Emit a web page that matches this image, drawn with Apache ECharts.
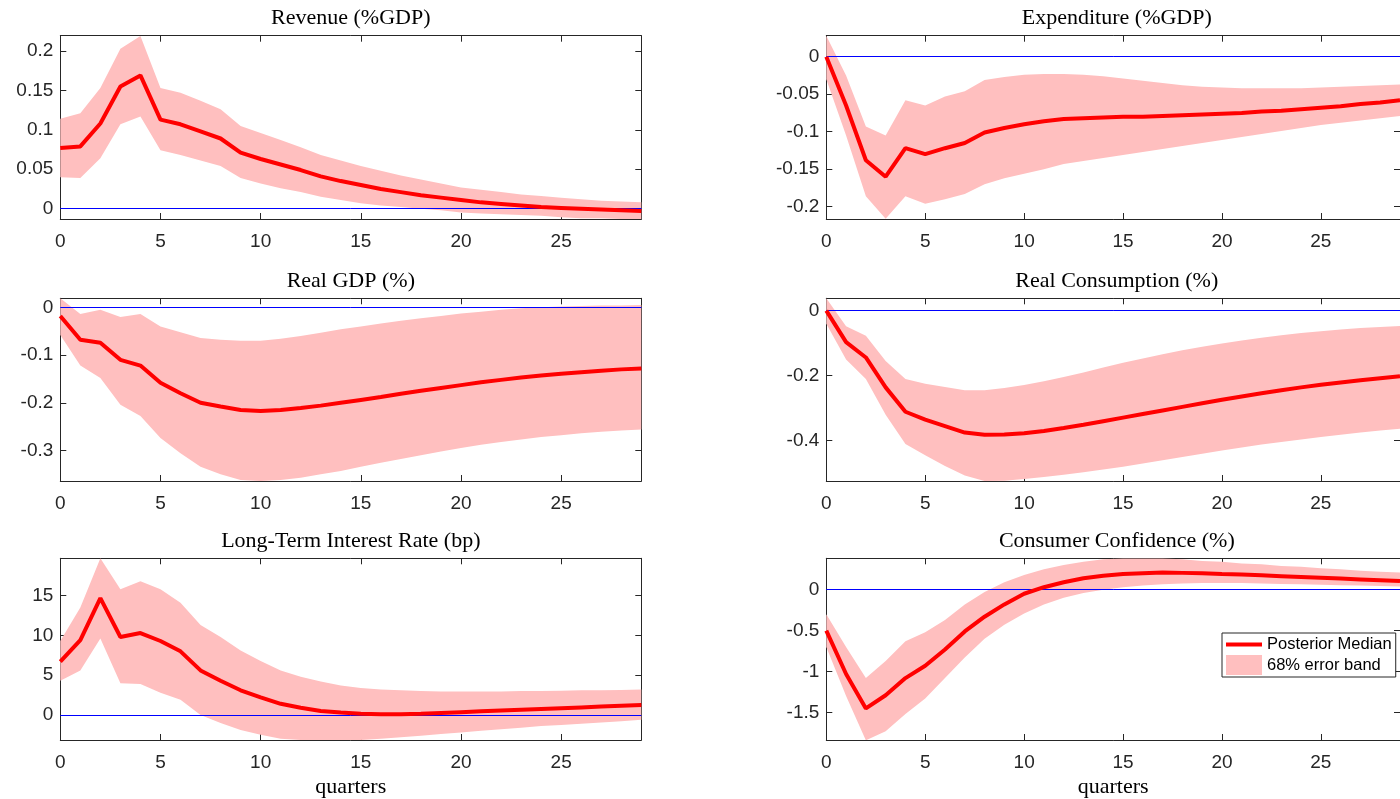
<!DOCTYPE html>
<html><head><meta charset="utf-8">
<script src="https://cdn.jsdelivr.net/npm/echarts@6/dist/echarts.min.js"></script>
<style>html,body{margin:0;padding:0;background:#fff}#c{width:1400px;height:799px}</style>
</head><body><div id="c"></div>
<script>
// ---------- data ----------
const quarters = [0,1,2,3,4,5,6,7,8,9,10,11,12,13,14,15,16,17,18,19,20,21,22,23,24,25,26,27,28,29];
const xTicks = [0,5,10,15,20,25];

const revMed = [0.077,0.079,0.108,0.155,0.169,0.113,0.107,0.098,0.089,0.071,0.063,0.056,0.049,0.041,0.035,0.030,0.025,0.021,0.017,0.014,0.011,0.008,0.006,0.004,0.002,0.001,0.000,-0.001,-0.002,-0.003];
const revUp  = [0.114,0.121,0.153,0.203,0.219,0.153,0.147,0.137,0.126,0.105,0.096,0.087,0.078,0.068,0.061,0.054,0.048,0.042,0.037,0.032,0.027,0.024,0.021,0.018,0.016,0.014,0.012,0.010,0.009,0.008];
const revLo  = [0.040,0.039,0.064,0.107,0.117,0.074,0.068,0.061,0.054,0.039,0.032,0.026,0.021,0.015,0.011,0.007,0.004,0.002,0.000,-0.002,-0.005,-0.006,-0.007,-0.008,-0.009,-0.011,-0.012,-0.012,-0.013,-0.013];
const revTicks = [0,0.05,0.1,0.15,0.2];

const expMed = [0.000,-0.065,-0.138,-0.160,-0.122,-0.130,-0.122,-0.115,-0.101,-0.095,-0.090,-0.086,-0.083,-0.082,-0.081,-0.080,-0.080,-0.079,-0.078,-0.077,-0.076,-0.075,-0.073,-0.072,-0.070,-0.068,-0.066,-0.063,-0.061,-0.058];
const expUp  = [0.028,-0.025,-0.093,-0.105,-0.058,-0.065,-0.053,-0.046,-0.031,-0.027,-0.024,-0.023,-0.023,-0.024,-0.026,-0.029,-0.032,-0.035,-0.038,-0.040,-0.041,-0.042,-0.042,-0.042,-0.042,-0.041,-0.040,-0.039,-0.038,-0.037];
const expLo  = [-0.030,-0.105,-0.186,-0.216,-0.186,-0.196,-0.190,-0.183,-0.170,-0.162,-0.156,-0.150,-0.143,-0.139,-0.135,-0.131,-0.127,-0.123,-0.119,-0.115,-0.111,-0.107,-0.103,-0.099,-0.095,-0.091,-0.088,-0.085,-0.082,-0.079];
const expTicks = [-0.2,-0.15,-0.1,-0.05,0];

const gdpMed = [-0.018,-0.068,-0.074,-0.110,-0.122,-0.158,-0.180,-0.200,-0.208,-0.215,-0.217,-0.215,-0.211,-0.206,-0.200,-0.194,-0.188,-0.181,-0.175,-0.169,-0.163,-0.157,-0.152,-0.147,-0.143,-0.139,-0.136,-0.133,-0.130,-0.128];
const gdpUp  = [0.019,-0.014,-0.005,-0.020,-0.014,-0.040,-0.052,-0.064,-0.068,-0.070,-0.070,-0.066,-0.060,-0.053,-0.046,-0.040,-0.034,-0.028,-0.023,-0.018,-0.013,-0.009,-0.005,-0.002,0.000,0.002,0.003,0.004,0.004,0.005];
const gdpLo  = [-0.058,-0.122,-0.148,-0.204,-0.228,-0.274,-0.306,-0.334,-0.350,-0.362,-0.364,-0.362,-0.357,-0.350,-0.343,-0.334,-0.326,-0.318,-0.310,-0.302,-0.295,-0.288,-0.282,-0.277,-0.272,-0.268,-0.264,-0.261,-0.258,-0.256];
const gdpTicks = [-0.3,-0.2,-0.1,0];

const conMed = [0.000,-0.097,-0.144,-0.236,-0.311,-0.335,-0.355,-0.375,-0.382,-0.381,-0.377,-0.370,-0.361,-0.351,-0.340,-0.329,-0.318,-0.307,-0.296,-0.285,-0.274,-0.264,-0.254,-0.245,-0.236,-0.228,-0.221,-0.214,-0.208,-0.202];
const conUp  = [0.038,-0.048,-0.077,-0.155,-0.210,-0.225,-0.235,-0.245,-0.245,-0.238,-0.229,-0.217,-0.204,-0.190,-0.175,-0.160,-0.147,-0.134,-0.122,-0.111,-0.101,-0.092,-0.083,-0.076,-0.069,-0.063,-0.058,-0.053,-0.050,-0.047];
const conLo  = [-0.040,-0.150,-0.210,-0.320,-0.410,-0.445,-0.478,-0.507,-0.524,-0.523,-0.518,-0.512,-0.505,-0.497,-0.489,-0.480,-0.470,-0.460,-0.450,-0.440,-0.430,-0.421,-0.412,-0.404,-0.396,-0.389,-0.382,-0.375,-0.369,-0.363];
const conTicks = [-0.4,-0.2,0];

const ltrMed = [6.7,9.4,14.7,9.8,10.3,9.3,8.0,5.6,4.3,3.1,2.2,1.4,0.9,0.5,0.3,0.15,0.1,0.1,0.15,0.25,0.35,0.45,0.55,0.65,0.75,0.85,0.95,1.05,1.15,1.25];
const ltrUp  = [9.3,13.5,19.7,15.8,16.8,15.8,14.1,11.3,9.8,8.1,6.8,5.6,4.8,4.2,3.7,3.4,3.2,3.1,3.0,2.95,2.95,2.95,2.95,3.0,3.0,3.05,3.1,3.1,3.15,3.2];
const ltrLo  = [4.3,5.6,9.6,4.0,3.9,2.8,1.9,0.0,-1.0,-1.9,-2.5,-3.0,-3.15,-3.15,-3.15,-3.15,-3.0,-2.8,-2.6,-2.4,-2.2,-2.0,-1.8,-1.6,-1.4,-1.25,-1.1,-0.95,-0.8,-0.6];
const ltrTicks = [0,5,10,15];

const ccMed = [-0.50,-1.03,-1.45,-1.29,-1.08,-0.93,-0.73,-0.51,-0.33,-0.18,-0.05,0.03,0.09,0.14,0.17,0.19,0.20,0.21,0.205,0.20,0.19,0.185,0.175,0.165,0.155,0.145,0.135,0.125,0.115,0.105];
const ccUp  = [-0.30,-0.70,-1.08,-0.87,-0.63,-0.52,-0.37,-0.18,-0.03,0.09,0.18,0.25,0.30,0.34,0.37,0.38,0.38,0.38,0.37,0.35,0.34,0.32,0.31,0.29,0.28,0.26,0.25,0.23,0.22,0.21];
const ccLo  = [-0.70,-1.30,-1.84,-1.73,-1.52,-1.33,-1.08,-0.83,-0.60,-0.43,-0.29,-0.18,-0.10,-0.04,0.00,0.03,0.05,0.065,0.075,0.08,0.08,0.08,0.075,0.07,0.065,0.06,0.055,0.05,0.045,0.04];
const ccTicks = [-1.5,-1,-0.5,0];

const titles = ['Revenue (%GDP)','Expenditure (%GDP)','Real GDP (%)','Real Consumption (%)','Long-Term Interest Rate (bp)','Consumer Confidence (%)'];
const legendNames = ['Posterior Median','68% error band'];

// ---------- layout ----------
const panels = [
  {med:revMed, up:revUp, lo:revLo, ticks:revTicks, min:-0.0131, max:0.2194},
  {med:expMed, up:expUp, lo:expLo, ticks:expTicks, min:-0.2164, max:0.028},
  {med:gdpMed, up:gdpUp, lo:gdpLo, ticks:gdpTicks, min:-0.364, max:0.019},
  {med:conMed, up:conUp, lo:conLo, ticks:conTicks, min:-0.524, max:0.038},
  {med:ltrMed, up:ltrUp, lo:ltrLo, ticks:ltrTicks, min:-3.15, max:19.7},
  {med:ccMed, up:ccUp, lo:ccLo, ticks:ccTicks, min:-1.836, max:0.383}
];
const colLeft = [60.3, 826.3];
const gridW = 581;
const rowTop = [35.7, 298.3, 558.3];
const rowH = [183.3, 182.7, 183.7];

const AX = '#262626';
const SANS = 'Liberation Sans, Arial, Helvetica, sans-serif';
const SERIF = 'Liberation Serif, Times New Roman, serif';

const grid = [], xAxis = [], yAxis = [], series = [], title = [];
panels.forEach((p, i) => {
  const col = i % 2, row = Math.floor(i / 2);
  grid.push({left: colLeft[col], top: rowTop[row], width: gridW, height: rowH[row]});
  const lineCommon = {show: true, onZero: false, lineStyle: {color: AX, width: 1}};
  const xBase = {type: 'value', gridIndex: i, min: 0, max: 29, splitLine: {show: false}, axisLine: lineCommon};
  xAxis.push(Object.assign({}, xBase, {
    position: 'bottom',
    axisTick: {show: true, inside: true, length: 6, customValues: xTicks, lineStyle: {color: AX}},
    axisLabel: {show: true, customValues: xTicks, margin: 13, fontSize: 19, color: AX, fontFamily: SANS},
    name: row === 2 ? 'quarters' : '', nameLocation: 'middle', nameGap: 36,
    nameTextStyle: {fontFamily: SERIF, fontSize: 22, color: '#000'}
  }));
  xAxis.push(Object.assign({}, xBase, {
    position: 'top',
    axisTick: {show: true, inside: true, length: 6, customValues: xTicks, lineStyle: {color: AX}},
    axisLabel: {show: false}
  }));
  const yBase = {type: 'value', gridIndex: i, min: p.min, max: p.max, splitLine: {show: false}, axisLine: lineCommon};
  yAxis.push(Object.assign({}, yBase, {
    position: 'left',
    axisTick: {show: true, inside: true, length: 6, customValues: p.ticks, lineStyle: {color: AX}},
    axisLabel: {show: true, customValues: p.ticks, margin: 7, fontSize: 19, color: AX, fontFamily: SANS}
  }));
  yAxis.push(Object.assign({}, yBase, {
    position: 'right',
    axisTick: {show: true, inside: true, length: 6, customValues: p.ticks, lineStyle: {color: AX}},
    axisLabel: {show: false}
  }));
  title.push({
    text: titles[i], left: colLeft[col] + gridW / 2, top: rowTop[row] - 28, textAlign: 'center', padding: 0,
    textStyle: {fontFamily: SERIF, fontSize: 22, fontWeight: 'normal', color: '#000'}
  });
  series.push({
    type: 'custom', name: legendNames[1], xAxisIndex: 2 * i, yAxisIndex: 2 * i, clip: true, z: 2,
    itemStyle: {color: '#ffbfbf'},
    data: quarters.map((q, k) => [q, p.lo[k], p.up[k]]),
    encode: {x: 0, y: [1, 2]},
    renderItem: function (params, api) {
      if (params.dataIndex !== 0) return null;
      const pts = [];
      for (let k = 0; k < quarters.length; k++) pts.push(api.coord([quarters[k], p.up[k]]));
      for (let k = quarters.length - 1; k >= 0; k--) pts.push(api.coord([quarters[k], p.lo[k]]));
      return {type: 'polygon', shape: {points: pts}, style: {fill: '#ffbfbf'}};
    }
  });
  series.push({
    type: 'line', name: legendNames[0], xAxisIndex: 2 * i, yAxisIndex: 2 * i, z: 6,
    symbol: 'none', showSymbol: false,
    lineStyle: {color: '#ff0000', width: 4},
    itemStyle: {color: '#ff0000'},
    data: quarters.map((q, k) => [q, p.med[k]]),
    markLine: {
      silent: true, symbol: ['none', 'none'], label: {show: false},
      lineStyle: {color: '#0000ff', width: 1, type: 'solid'},
      emphasis: {disabled: true},
      data: [{yAxis: 0}]
    }
  });
});

const chart = echarts.init(document.getElementById('c'), null, {renderer: 'canvas'});
chart.setOption({
  animation: false,
  backgroundColor: '#fff',
  title, grid, xAxis, yAxis, series,
  legend: {
    data: [
      {name: legendNames[0], icon: 'path://M0,0L36,0L36,4L0,4Z'},
      {name: legendNames[1], icon: 'rect'}
    ],
    orient: 'vertical', left: 1222, top: 633,
    itemWidth: 36, itemHeight: 20, itemGap: 2, padding: [3, 4, 2, 4],
    symbolKeepAspect: true,
    borderColor: AX, borderWidth: 1, backgroundColor: '#fff', borderRadius: 0,
    selectedMode: false,
    textStyle: {fontSize: 16.5, color: '#000', fontFamily: SANS}
  }
});
</script></body></html>
